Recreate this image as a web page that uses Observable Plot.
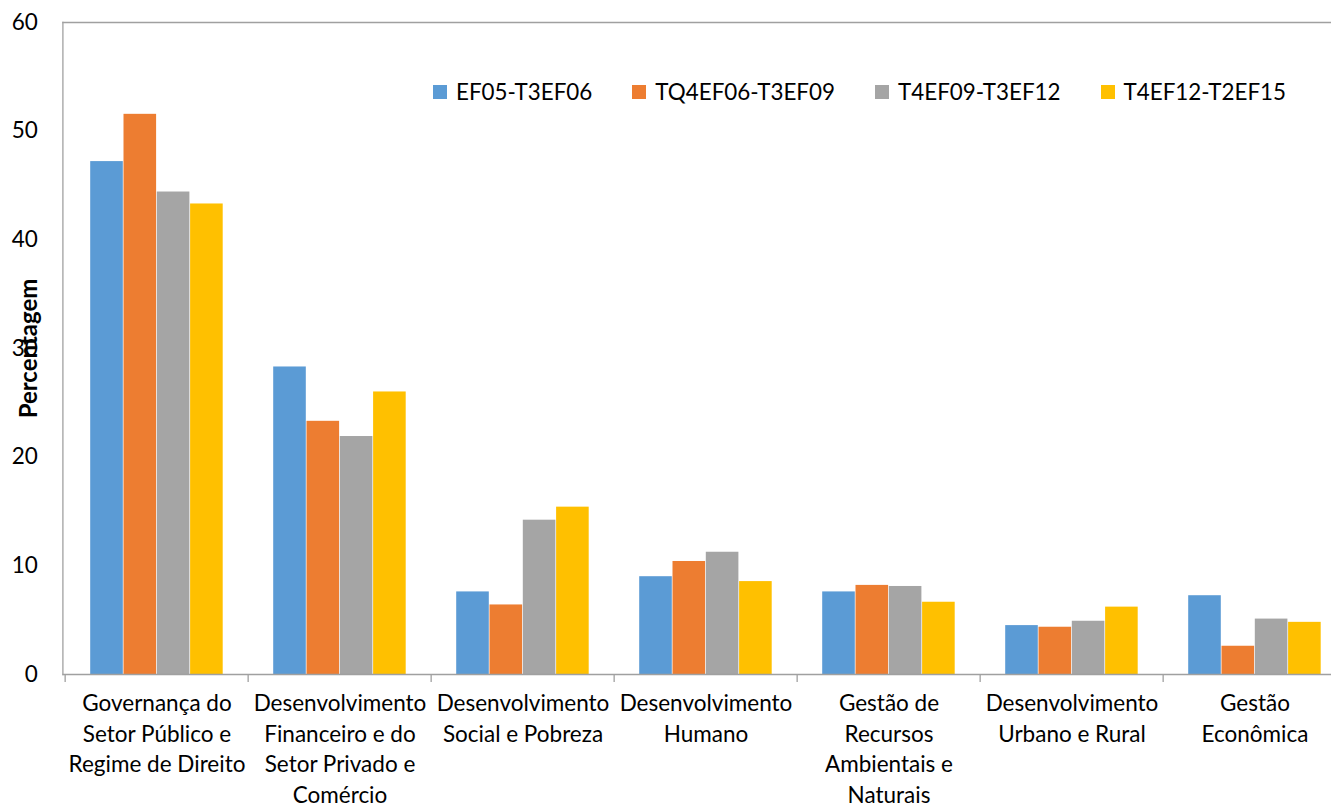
<!DOCTYPE html>
<html>
<head>
<meta charset="utf-8">
<script src="https://cdn.jsdelivr.net/npm/d3@7"></script>
<script src="https://cdn.jsdelivr.net/npm/@observablehq/plot@0.6"></script>
<style>
  html, body { margin: 0; padding: 0; background: #fff; overflow: hidden; }
  #wrap { position: relative; width: 1331px; height: 808px; }
  #legend { position: absolute; left: 433px; top: 78px; display: flex; gap: 40px;
            font-family: Lato, sans-serif; font-size: 22.4px; color: #000; line-height: 28px; }
  #legend .item { display: flex; align-items: center; }
  #legend .sw { width: 14px; height: 14px; margin-right: 9px; }
</style>
</head>
<body>
<div id="wrap"><div id="legend"></div></div>
<script>
const categories = [
  "Governança do\nSetor Público e\nRegime de Direito",
  "Desenvolvimento\nFinanceiro e do\nSetor Privado e\nComércio",
  "Desenvolvimento\nSocial e Pobreza",
  "Desenvolvimento\nHumano",
  "Gestão de\nRecursos\nAmbientais e\nNaturais",
  "Desenvolvimento\nUrbano e Rural",
  "Gestão\nEconômica"
];
const series = ["EF05-T3EF06", "TQ4EF06-T3EF09", "T4EF09-T3EF12", "T4EF12-T2EF15"];
const colors = ["#5b9bd5", "#ed7d31", "#a5a5a5", "#ffc000"];
const valuesS1 = [47.2, 28.3, 7.6, 9.0, 7.6, 4.5, 7.25];
const valuesS2 = [51.55, 23.3, 6.4, 10.4, 8.2, 4.35, 2.6];
const valuesS3 = [44.4, 21.9, 14.2, 11.25, 8.1, 4.9, 5.1];
const valuesS4 = [43.3, 26.0, 15.4, 8.55, 6.65, 6.2, 4.8];
const yTicks = [0, 10, 20, 30, 40, 50, 60];

const allValues = [valuesS1, valuesS2, valuesS3, valuesS4];
const rows = [];
categories.forEach((c, i) => series.forEach((s, j) => rows.push({cat: c, series: s, value: allValues[j][i]})));

const W = 1331, H = 808;
const mL = 62.4, mT = 22, mB = 134;
const bandW = 183.7, outerPad = 25.2, barW = 33.3;

const marks = [];
series.forEach((s, j) => {
  marks.push(Plot.barY(rows.filter(r => r.series === s), {
    x: "cat", y: "value", fill: colors[j],
    insetLeft: outerPad + barW * j,
    insetRight: bandW - outerPad - barW * (j + 1)
  }));
});
marks.push(Plot.frame({anchor: "left", stroke: "#a0a0a0", strokeWidth: 1.3}));
marks.push(Plot.frame({anchor: "top", stroke: "#a0a0a0", strokeWidth: 1.3}));
marks.push(Plot.ruleY([0], {stroke: "#a0a0a0", strokeWidth: 1.3}));
marks.push(Plot.axisX({tickSize: 8, tickFormat: () => "", dx: -bandW / 2, stroke: "#a0a0a0", strokeWidth: 1.3, label: null}));
marks.push(Plot.axisX({tickSize: 0, tickPadding: 15, label: null, lineHeight: 1.36, fontSize: 22.5, fill: "#000"}));
marks.push(Plot.axisY({ticks: yTicks, tickSize: 0, tickPadding: 25, label: null, fontSize: 22.5, fill: "#000"}));
marks.push(Plot.text(["Percentagem"], {frameAnchor: "left", textAnchor: "middle", rotate: -90, dx: -34, fontWeight: "bold", fontSize: 24, fill: "#000"}));

const chart = Plot.plot({
  width: W, height: H,
  marginLeft: mL, marginRight: 0, marginTop: mT, marginBottom: mB,
  style: {fontFamily: "Lato, sans-serif", fontSize: "22.5px", color: "#000", background: "white", overflow: "visible"},
  x: {domain: categories, range: [mL, mL + bandW * categories.length], padding: 0, axis: null},
  y: {domain: [0, 60], axis: null},
  marks
});
document.getElementById("wrap").prepend(chart);

const legend = document.getElementById("legend");
series.forEach((s, j) => {
  const it = document.createElement("div");
  it.className = "item";
  it.innerHTML = `<span class="sw" style="background:${colors[j]}"></span><span>${s}</span>`;
  legend.appendChild(it);
});
</script>
</body>
</html>
